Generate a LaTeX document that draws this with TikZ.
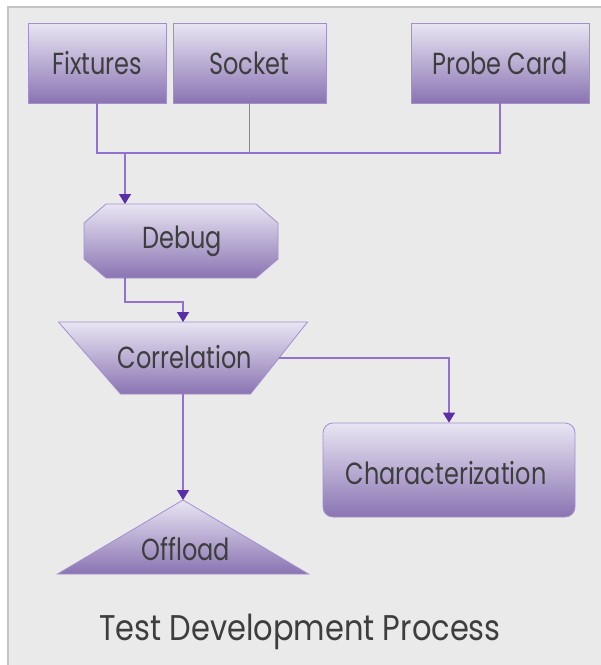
\documentclass[tikz,border=0pt]{standalone}
\usepackage{fontspec}
\usepackage{graphicx}
\setmainfont{Poppins}
\usetikzlibrary{arrows.meta}

\definecolor{pagebg}{HTML}{EAEAEA}
\definecolor{framecol}{HTML}{C4C4C4}
\definecolor{shadetop}{HTML}{E9E5F3}
\definecolor{shadebot}{HTML}{8A74B2}
\definecolor{edgecol}{HTML}{A28FCE}
\definecolor{linecol}{HTML}{9371CF}
\definecolor{tipcol}{HTML}{5A2DA9}
\definecolor{textcol}{HTML}{3E3E3E}

% tall lettering for the shape labels and the caption
\newcommand\talltext[1]{\scalebox{1}[1.27]{#1}}
\newcommand\tallcaption[1]{\scalebox{1}[1.17]{#1}}

\tikzset{
  x=1pt, y=-1pt,
  shaded/.style={top color=shadetop, bottom color=shadebot, draw=edgecol, line width=0.8pt},
  label/.style={text=textcol, font=\fontsize{24}{28}\selectfont, inner sep=0pt},
  boxnode/.style={shaded, label, minimum height=80pt},
  frame/.style={draw=none, inner sep=0pt, outer sep=0pt},
  wire/.style={draw=linecol, line width=1.4pt},
  flow/.style={wire, -{Triangle[width=12pt,length=10pt,color=tipcol]}},
}

\begin{document}
\begin{tikzpicture}
  % page and frame
  \useasboundingbox (0,0) rectangle (601,665);
  \fill[white] (0,0) rectangle (601,665);
  \fill[pagebg] (8,7) rectangle (601,665);
  \draw[framecol, line width=1.5pt] (8,665) -- (8,7) -- (601,7);

  % supply boxes
  \node[boxnode, minimum width=138pt] (fix)   at (97,63)    {\talltext{Fixtures}};
  \node[boxnode, minimum width=153pt] (sock)  at (249.5,63) {\talltext{Socket}};
  \node[boxnode, minimum width=178pt] (probe) at (500,63)   {\talltext{Probe Card}};

  % debug (chamfered box)
  \node[frame, minimum width=194pt, minimum height=74pt] (debug) at (181,241) {};
  \path[shaded] ([xshift=22pt]debug.north west) -- ([xshift=-22pt]debug.north east)
    -- ([yshift=-19pt]debug.north east) -- ([yshift=19pt]debug.south east)
    -- ([xshift=-22pt]debug.south east) -- ([xshift=22pt]debug.south west)
    -- ([yshift=19pt]debug.south west) -- ([yshift=-19pt]debug.north west) -- cycle;
  \node[label] (debuglabel) at (182,241) {\talltext{Debug}};

  % correlation (inverted trapezium)
  \node[frame, minimum width=249pt, minimum height=72pt] (corr) at (183,358) {};
  \path[shaded] (corr.north west) -- (corr.north east)
    -- ([xshift=-57pt]corr.south east) -- ([xshift=62pt]corr.south west) -- cycle;
  \node[label] (corrlabel) at (185,357) {\talltext{Correlation}};
  \coordinate (corrside) at ([xshift=-29pt]corr.east);

  % characterization
  \node[shaded, rounded corners=10pt, minimum width=252pt, minimum height=94pt]
    (char) at (449,470) {};
  \node[label] (charlabel) at (446,473) {\talltext{Characterization}};

  % offload (triangle)
  \node[frame, minimum width=251pt, minimum height=74pt] (off) at (183,537) {};
  \path[shaded] (off.north) -- (off.south east) -- (off.south west) -- cycle;
  \node[label] (offlabel) at (186,549) {\talltext{Offload}};

  % caption
  \node[text=textcol, font=\fontsize{30.5}{34}\selectfont, inner sep=0pt] (title) at (300,632)
    {\tallcaption{Test Development Process}};

  % connectors
  \coordinate (busL) at (fix.south |- 0,153);
  \coordinate (dtop) at ([xshift=-56pt]debug.north);
  \draw[wire] (fix.south) -- (busL) -- (busL -| probe.south) -- (probe.south);
  \draw[wire] (sock.south) -- (sock.south |- busL);
  \draw[flow] (busL -| dtop) -- (dtop);

  \coordinate (dbot) at ([xshift=-56pt]debug.south);
  \coordinate (jog) at (0,302);
  \draw[flow] (dbot) -- (dbot |- jog) -| (corr.north);

  \draw[flow] (corrside) -| (char.north);
  \draw[flow] (corr.south) -- (off.north);
\end{tikzpicture}
\end{document}
